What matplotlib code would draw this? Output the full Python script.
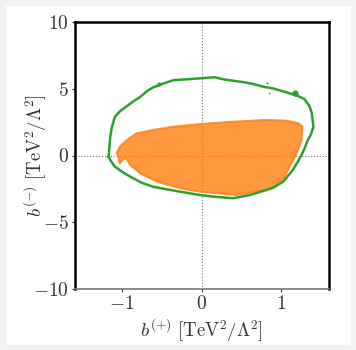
import matplotlib
matplotlib.use("Agg")
import matplotlib.pyplot as plt
from matplotlib.patches import Polygon, Rectangle

plt.rcParams['mathtext.fontset'] = 'cm'
plt.rcParams['font.family'] = 'serif'
plt.rcParams['font.serif'] = ['DejaVu Serif']

# green (outer) contour
green_x = [-1.17, -1.15, -1.13, -1.09, -1.03, -0.94, -0.86, -0.77, -0.68, -0.61, -0.50, -0.35, -0.20, -0.02,
           0.17, 0.28, 0.40, 0.52, 0.65, 0.78, 0.90, 1.00, 1.11, 1.22, 1.30,
           1.36, 1.39, 1.41, 1.38, 1.34, 1.30, 1.26, 1.20, 1.15, 1.03, 0.92, 0.82, 0.61, 0.40, 0.15, -0.02,
           -0.27, -0.45, -0.61, -0.75, -0.86, -0.98, -1.09, -1.15, -1.17]
green_y = [-0.09, 1.40, 2.10, 2.90, 3.30, 3.70, 4.05, 4.40, 4.85, 5.10, 5.35, 5.65, 5.70, 5.78,
           5.86, 5.70, 5.60, 5.50, 5.36, 5.15, 5.03, 4.85, 4.66, 4.45, 4.20,
           3.70, 3.16, 2.16, 1.60, 1.16, 0.55, 0.04, -0.60, -1.09, -1.96, -2.35, -2.58, -2.96, -3.20, -3.08, -2.96,
           -2.71, -2.52, -2.34, -2.05, -1.71, -1.30, -0.84, -0.34, -0.09]
# small isolated islands of the green contour
island_x = [-0.54, 1.18, 0.82, 0.85]
island_y = [5.36, 4.66, 5.40, 4.66]
island_s = [3.0, 4.5, 1.5, 1.2]

# orange (inner) filled region
orange_x = [-1.07, -1.03, -0.94, -0.82, -0.61, -0.35, -0.02, 0.40, 0.82, 1.07, 1.22, 1.27, 1.26, 1.20,
            1.11, 1.03, 0.90, 0.69, 0.44, 0.19, -0.02, -0.27, -0.56, -0.77, -0.90, -0.95, -1.00, -1.03, -1.05]
orange_y = [0.16, 0.66, 1.16, 1.66, 1.91, 2.16, 2.36, 2.53, 2.66, 2.61, 2.41, 2.20, 1.16, 0.16,
            -0.84, -1.84, -2.46, -2.71, -2.96, -2.83, -2.71, -2.46, -1.96, -1.34, -0.71, -0.20, -0.34, -0.62, -0.05]

xticks = [-1, 0, 1]
yticks = [-10, -5, 0, 5, 10]

fig = plt.figure(figsize=(3.56, 3.50), dpi=100)
fig.patch.set_facecolor('white')
fig.patches.append(Rectangle((0, 0), 1, 1, transform=fig.transFigure, fill=False,
                             edgecolor='#f2f2f2', linewidth=8, zorder=-10))
ax = fig.add_axes([74.5/356, 1 - 289/350, (328.5-74.5)/356, (289-22)/350])

ax.axhline(0, color='#777777', linestyle=':', linewidth=0.8, zorder=1)
ax.axvline(0, color='#777777', linestyle=':', linewidth=0.8, zorder=1)

poly = Polygon(list(zip(orange_x, orange_y)), closed=True, facecolor='#ff7f0e', alpha=0.8,
               edgecolor='#ff7f0e', linewidth=1.5, zorder=2)
ax.add_patch(poly)
ax.plot(green_x, green_y, color='#2ca02c', linewidth=1.8, zorder=3)
for xi, yi, si in zip(island_x, island_y, island_s):
    ax.plot([xi], [yi], 'o', color='#2ca02c', markersize=si, markeredgewidth=0, zorder=3)

ax.set_xlim(-1.6, 1.6)
ax.set_ylim(-10, 10)
ax.set_xticks(xticks)
ax.set_yticks(yticks)
ax.set_xticklabels([r'$%d$' % t if t >= 0 else r'$-%d$' % abs(t) for t in xticks])
ax.set_yticklabels([r'$%d$' % t if t >= 0 else r'$-%d$' % abs(t) for t in yticks])
ax.tick_params(labelsize=14, length=2, width=0.8, pad=2, colors='#333333')
for s in ax.spines.values():
    s.set_linewidth(1.8)
    s.set_color('black')
ax.spines['bottom'].set_color('#777777')
ax.spines['bottom'].set_linewidth(1.2)

ax.text(-0.155, 0.5, r'$b^{(-)}\ [\mathrm{TeV}^2/\Lambda^2]$', transform=ax.transAxes, rotation=90,
        ha='center', va='center', fontsize=13.5, color='#333333')
ax.text(0.5, -0.154, r'$b^{(+)}\ [\mathrm{TeV}^2/\Lambda^2]$', transform=ax.transAxes,
        ha='center', va='center', fontsize=13.5, color='#333333')

fig.savefig('out.png', dpi=100, facecolor='white')
